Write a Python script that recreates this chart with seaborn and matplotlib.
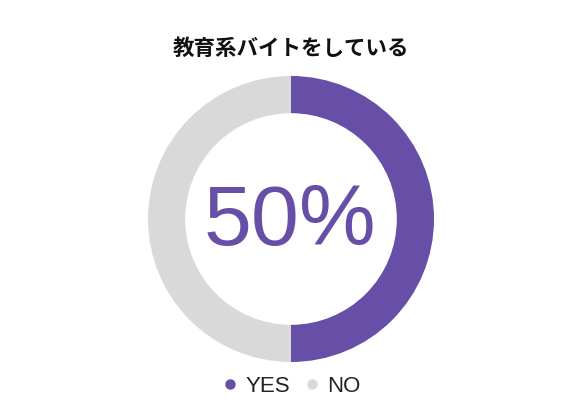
import matplotlib
matplotlib.use("Agg")
import matplotlib.pyplot as plt
from matplotlib.lines import Line2D
import seaborn as sns

# data
labels = ["YES", "NO"]
values = [50, 50]
colors = ["#674EA7", "#D9D9D9"]
title = "教育系バイトをしている"
center_text = "50%"

sns.set_theme(style="white")
plt.rcParams["font.family"] = ["Liberation Sans", "Noto Sans CJK JP", "DejaVu Sans"]

W, H = 581, 419
fig = plt.figure(figsize=(W / 100, H / 100), dpi=100)
fig.patch.set_facecolor("white")

# donut: center (291, 219), outer radius 143 px
cx, cy, r = 291, 219, 143
ax = fig.add_axes([(cx - r) / W, (H - cy - r) / H, 2 * r / W, 2 * r / H])
ax.pie(values, colors=colors, startangle=90, counterclock=False,
       radius=1.0, wedgeprops=dict(width=0.26, edgecolor="none"))
ax.set_xlim(-1, 1)
ax.set_ylim(-1, 1)
ax.set_aspect("equal")
ax.axis("off")

ax.text(-0.01, -0.03, center_text, ha="center", va="center", fontsize=62,
        color=colors[0], family=["Liberation Sans", "DejaVu Sans"])

fig.text(cx / W, 1 - 48 / H, title, ha="center", va="center",
         fontsize=15.5, fontweight="bold",
         family=["Noto Sans CJK JP", "DejaVu Sans"], color="#111111")

handles = [Line2D([], [], marker="o", linestyle="none", markersize=6.5,
                  markerfacecolor=c, markeredgecolor=c) for c in colors]
fig.legend(handles, labels, loc="center", bbox_to_anchor=(cx / W, 1 - 386 / H),
           ncol=2, frameon=False, handletextpad=0.3,
           columnspacing=0.55, handlelength=0.8, labelcolor="#222222",
           prop={"family": ["Liberation Sans", "DejaVu Sans"], "size": 16})

fig.savefig("out.png", dpi=100, facecolor="white")
